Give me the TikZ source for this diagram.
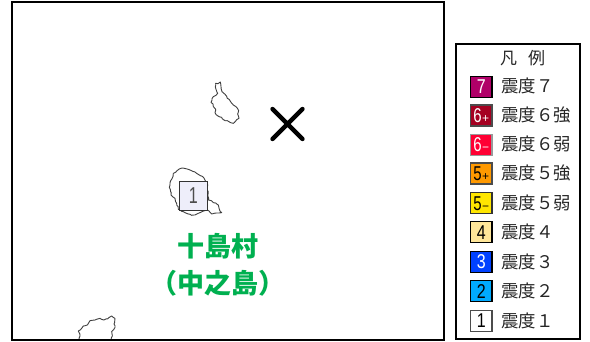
\documentclass[tikz,border=0pt]{standalone}
\usepackage{fontspec}
\usetikzlibrary{decorations.pathmorphing}
\setmainfont{Liberation Sans}
\newfontfamily\cjk{Noto Sans CJK JP}
\definecolor{inkgray}{HTML}{262626}
\definecolor{villagegreen}{HTML}{00B050}
\definecolor{sevenc}{HTML}{B00068}
\definecolor{sixpc}{HTML}{A50021}
\definecolor{sixmc}{HTML}{FF0033}
\definecolor{fivepc}{HTML}{FF9900}
\definecolor{fivemc}{HTML}{FFE600}
\definecolor{fourc}{HTML}{FFE699}
\definecolor{threec}{HTML}{0041FF}
\definecolor{twoc}{HTML}{00AAFF}
\definecolor{markerc}{HTML}{EEEEFA}
\newcommand{\tall}[1]{\scalebox{0.8}[1]{\fontsize{20}{20}\selectfont #1}}
\newcommand{\tallsg}[2]{\scalebox{0.75}[1]{\fontsize{20}{20}\selectfont #1}\hspace{0.3pt}{\fontsize{12}{12}\selectfont #2}}
\tikzset{
  framebox/.style={draw=black,line width=2pt,fill=white},
  island/.style={draw=black!75,line width=0.9pt,line join=round,decorate,decoration={random steps,segment length=2.2pt,amplitude=0.55pt}},
  swatch/.style={draw=#1,line width=1.3pt,minimum width=21.5pt,minimum height=21pt,inner sep=0pt},
  legendtext/.style={anchor=west,inner sep=0pt,text=inkgray,font=\cjk\fontsize{17.4}{17.4}\selectfont},
  villagelabel/.style={inner sep=0pt,text=villagegreen,font=\cjk\bfseries\fontsize{27}{27}\selectfont}
}
\begin{document}
\begin{tikzpicture}[x=1pt,y=-1pt]
\pgfmathsetseed{7}
\useasboundingbox (0,0) rectangle (590,342);
% map frame
\draw[framebox] (11.5,2) rectangle (444,340);
% islands (zoomed reference units)
\begin{scope}[shift={(150,70)},x=1pt/3,y=-1pt/3]
\draw[island] (197,40) -- (204,41) -- (211,36) -- (213,50) -- (216,65) -- (224,72) -- (232,85) -- (240,92) -- (250,105) -- (258,110) -- (266,122) -- (263,132) -- (267,145) -- (258,152) -- (250,160) -- (240,157) -- (232,152) -- (222,150) -- (215,142) -- (204,138) -- (195,128) -- (197,118) -- (190,110) -- (189,102) -- (183,97) -- (186,86) -- (190,80) -- (198,76) -- (203,70) -- (198,58) -- cycle;
\draw[island] (60,340) -- (66,326) -- (70,310) -- (80,303) -- (90,296) -- (103,295) -- (115,298) -- (128,304) -- (140,310) -- (155,318) -- (165,330) -- (172,340) -- (175,390) -- (184,392) -- (190,398) -- (200,402) -- (205,405) -- (208,418) -- (215,428) -- (200,429) -- (185,432) -- (172,420) -- (158,424) -- (145,430) -- (135,435) -- (125,436) -- (115,432) -- (105,428) -- (95,424) -- (85,418) -- (80,400) -- (75,385) -- (63,375) -- (62,365) -- (58,352) -- cycle;
\end{scope}
\begin{scope}[shift={(0,230)},x=1pt/3,y=-1pt/3]
\draw[island] (237,330) -- (240,318) -- (235,303) -- (245,295) -- (250,288) -- (262,285) -- (270,272) -- (285,270) -- (300,265) -- (312,270) -- (322,267) -- (335,258) -- (345,265) -- (342,282) -- (345,292) -- (335,305) -- (337,318) -- (333,330);
\end{scope}
\draw[framebox,fill=none] (11.5,2) rectangle (444,340);
% epicentre
\coordinate (xa) at (272.5,109);
\coordinate (xb) at (302.5,139);
\coordinate (xc) at (302.5,109);
\coordinate (xd) at (272.5,139);
\draw[line width=4.4pt,line cap=round] (xa) -- (xb) (xc) -- (xd);
% station marker
\node[draw=black!80,line width=1pt,fill=markerc,minimum width=28.5pt,minimum height=28.5pt,inner sep=0pt,text=black!70] (marker) at (193.3,196) {\scalebox{0.7}[1]{\fontsize{23}{23}\selectfont 1}};
% village label
\node[villagelabel] (vname) at (217.5,246) {十島村};
\node[villagelabel] (vsub) at (217.5,283) {（中之島）};
% legend
\draw[framebox] (456,44.5) rectangle (579.5,339.5);
\node[inner sep=0pt,text=inkgray,font=\cjk\fontsize{17}{17}\selectfont] (ltitle) at (522.5,58) {凡\hspace{11pt}例};
\node[swatch=black,fill=sevenc,text=white] (s7) at (481.3,86.7) {\tall{7}};
\node[swatch=black!70,fill=sixpc,text=white] (s6p) at (481.3,115.5) {\tallsg{6}{+}};
\node[swatch=black!40,fill=sixmc,text=white] (s6m) at (481.3,144.7) {\tallsg{6}{−}};
\node[swatch=black!70,fill=fivepc,text=black] (s5p) at (481.3,173.5) {\tallsg{5}{+}};
\node[swatch=black!80,fill=fivemc,text=black] (s5m) at (481.3,203.3) {\tallsg{5}{−}};
\node[swatch=black,fill=fourc,text=black] (s4) at (481.3,232.2) {\tall{4}};
\node[swatch=black,fill=threec,text=white] (s3) at (481.3,262) {\tall{3}};
\node[swatch=black,fill=twoc,text=black] (s2) at (481.3,291.3) {\tall{2}};
\node[swatch=black!70,fill=white,text=black] (s1) at (481.3,320.7) {\tall{1}};
\node[legendtext] (t7) at (501,85.5) {震度７};
\node[legendtext] (t6p) at (501,115) {震度６強};
\node[legendtext] (t6m) at (501,144) {震度６弱};
\node[legendtext] (t5p) at (501,173) {震度５強};
\node[legendtext] (t5m) at (501,203) {震度５弱};
\node[legendtext] (t4) at (501,232) {震度４};
\node[legendtext] (t3) at (501,261.5) {震度３};
\node[legendtext] (t2) at (501,291) {震度２};
\node[legendtext] (t1) at (501,320.5) {震度１};
\end{tikzpicture}
\end{document}
